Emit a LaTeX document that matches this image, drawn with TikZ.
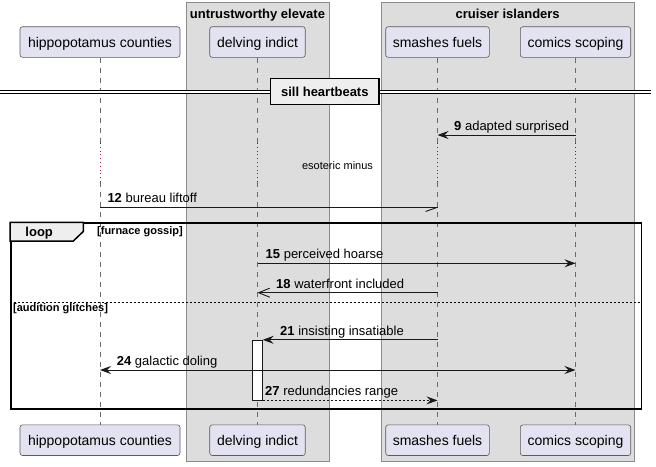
\documentclass[tikz,border=0pt]{standalone}
\usepackage{fontspec}
\setmainfont{Liberation Sans}
\usetikzlibrary{arrows.meta}
\definecolor{partfill}{HTML}{E2E2F0}
\definecolor{partdraw}{HTML}{5A5A5A}
\definecolor{boxfill}{HTML}{DDDDDD}
\definecolor{boxdraw}{HTML}{8C8C8C}
\definecolor{lifecol}{HTML}{6A6A6A}
\definecolor{delaycol}{HTML}{8B1A3A}
\definecolor{tabfill}{HTML}{EEEEEE}
\newcommand{\fsz}[1]{\fontsize{#1}{#1}\selectfont}
\begin{document}
\begin{tikzpicture}[x=1pt,y=-1pt,
  part/.style={draw=partdraw, line width=0.6pt, fill=partfill, rounded corners=2.5pt,
    minimum height=30.6pt, inner sep=0pt, text height=11pt, text depth=0pt, font=\fsz{14}},
  grp/.style={draw=boxdraw, line width=0.7pt, fill=boxfill, inner sep=0pt, anchor=north west},
  grptitle/.style={anchor=base, inner sep=0pt, font=\fsz{13}\bfseries},
  life/.style={draw=lifecol, line width=0.5pt, dash pattern=on 5pt off 5pt},
  delay/.style={draw=delaycol, line width=0.6pt, dash pattern=on 0.8pt off 3pt},
  msg/.style={draw=black!90, line width=0.9pt},
  lbl/.style={anchor=base west, inner sep=0pt, font=\fsz{13}},
  fhead/.style={-{Stealth[length=11pt,width=8pt,inset=4pt]}},
  bothhead/.style={{Stealth[length=11pt,width=8pt,inset=4pt]}-{Stealth[length=11pt,width=8pt,inset=4pt]}},
  ohead/.style={-{Straight Barb[length=11pt,width=9pt]}},
  condlbl/.style={anchor=base west, inner sep=0pt, font=\fsz{11}\bfseries},
]
\useasboundingbox (0,0) rectangle (656,466);
\fill[white] (0,0) rectangle (656,466);

% group boxes
\node[grp, minimum width=143pt, minimum height=459pt] (gU) at (186,1.5) {};
\node[grp, minimum width=253.3pt, minimum height=459pt] (gC) at (381,1.5) {};
\node[grptitle] (gUt) at (257.5,18.5) {untrustworthy elevate};
\node[grptitle] (gCt) at (507.7,18.5) {cruiser islanders};

% participants
\node[part, minimum width=160pt] (hT) at (100,42) {hippopotamus counties};
\node[part, minimum width=95.5pt] (dT) at (257.5,42) {delving indict};
\node[part, minimum width=103.6pt] (sT) at (437.5,42) {smashes fuels};
\node[part, minimum width=110.4pt] (cT) at (575.5,42) {comics scoping};
\node[part, minimum width=160pt] (hB) at (100,440.2) {hippopotamus counties};
\node[part, minimum width=95.5pt] (dB) at (257.5,440.2) {delving indict};
\node[part, minimum width=103.6pt] (sB) at (437.5,440.2) {smashes fuels};
\node[part, minimum width=110.4pt] (cB) at (575.5,440.2) {comics scoping};

% lifelines
\foreach \p in {h,d,s,c}{
  \draw[life] (\p T.south) -- (\p T.south |- 0,143);
  \draw[delay] (\p T.south |- 0,143) -- (\p T.south |- 0,182);
  \draw[life] (\p T.south |- 0,182) -- (\p B.north);
}

% divider
\coordinate (divL) at (0,92);
\coordinate (divR) at (651,92);
\draw[double=white, double distance=2.2pt, line width=0.9pt] (divL) -- (divR);
\node[draw, line width=1.5pt, fill=tabfill, minimum width=108.3pt, minimum height=26pt,
  inner sep=0pt, font=\fsz{13}\bfseries, text height=9.5pt, text depth=0pt] (div) at (324.85,91.3) {sill heartbeats};

% message 9
\coordinate (c9) at (cT.south |- 0,135);
\coordinate (s9) at (sT.south |- 0,135);
\draw[msg, fhead] (c9) -- (s9);
\node[lbl] (l9) at (454,130.5) {\textbf{9} adapted surprised};

% delay text
\node[anchor=base, inner sep=0pt, font=\fsz{11}] (dly) at (337.5,169) {esoteric minus};

% message 12
\coordinate (h12) at (hT.south |- 0,207.3);
\coordinate (s12) at (sT.south |- 0,207.3);
\draw[msg] (h12) -- (s12);
\draw[msg] (s12) -- ++(-12,4.2);
\node[lbl] (l12) at (107.3,202.8) {\textbf{12} bureau liftoff};

% loop frame
\node[draw, line width=1.5pt, minimum width=630.7pt, minimum height=186pt, inner sep=0pt,
  anchor=north west] (loopf) at (10,222.3) {};
\draw[line width=1.5pt, fill=tabfill] (loopf.north west) -- (83.3,222.3) -- (83.3,231.5)
  -- (73.3,241) -- (10,241) -- cycle;
\node[anchor=base, inner sep=0pt, font=\fsz{13}\bfseries] (looplbl) at (39.2,236.5) {loop};
\node[condlbl] (cond1) at (97,234.5) {[furnace gossip]};
\coordinate (elseL) at (10,302.3);
\coordinate (elseR) at (640.7,302.3);
\draw[line width=0.8pt, dash pattern=on 2pt off 2pt] (elseL) -- (elseR);
\node[condlbl] (cond2) at (13,311) {[audition glitches]};

% message 15
\coordinate (d15) at (dT.south |- 0,263.3);
\coordinate (c15) at (cT.south |- 0,263.3);
\draw[msg, fhead] (d15) -- (c15);
\node[lbl] (l15) at (265.5,258.8) {\textbf{15} perceived hoarse};

% message 18
\coordinate (s18) at (sT.south |- 0,292.7);
\coordinate (d18) at (dT.south |- 0,292.7);
\draw[msg, ohead] (s18) -- (d18);
\node[lbl] (l18) at (276,288.2) {\textbf{18} waterfront included};

% activation
\node[draw=black!90, line width=0.8pt, fill=white, minimum width=10pt, minimum height=60pt,
  inner sep=0pt] (act) at (257.3,370) {};

% message 21
\coordinate (s21) at (sT.south |- 0,339.8);
\coordinate (a21) at (act.east |- 0,339.8);
\draw[msg, fhead] (s21) -- (a21);
\node[lbl] (l21) at (280,335.3) {\textbf{21} insisting insatiable};

% message 24
\coordinate (h24) at (hT.south |- 0,370);
\coordinate (c24) at (cT.south |- 0,370);
\draw[msg, bothhead] (h24) -- (c24);
\node[lbl] (l24) at (116.7,365.5) {\textbf{24} galactic doling};

% message 27
\coordinate (a27) at (act.south east);
\coordinate (s27) at (sT.south |- act.south);
\draw[msg, fhead, dash pattern=on 2pt off 2pt] (a27) -- (s27);
\node[lbl] (l27) at (265,395.5) {\textbf{27} redundancies range};
\end{tikzpicture}
\end{document}
